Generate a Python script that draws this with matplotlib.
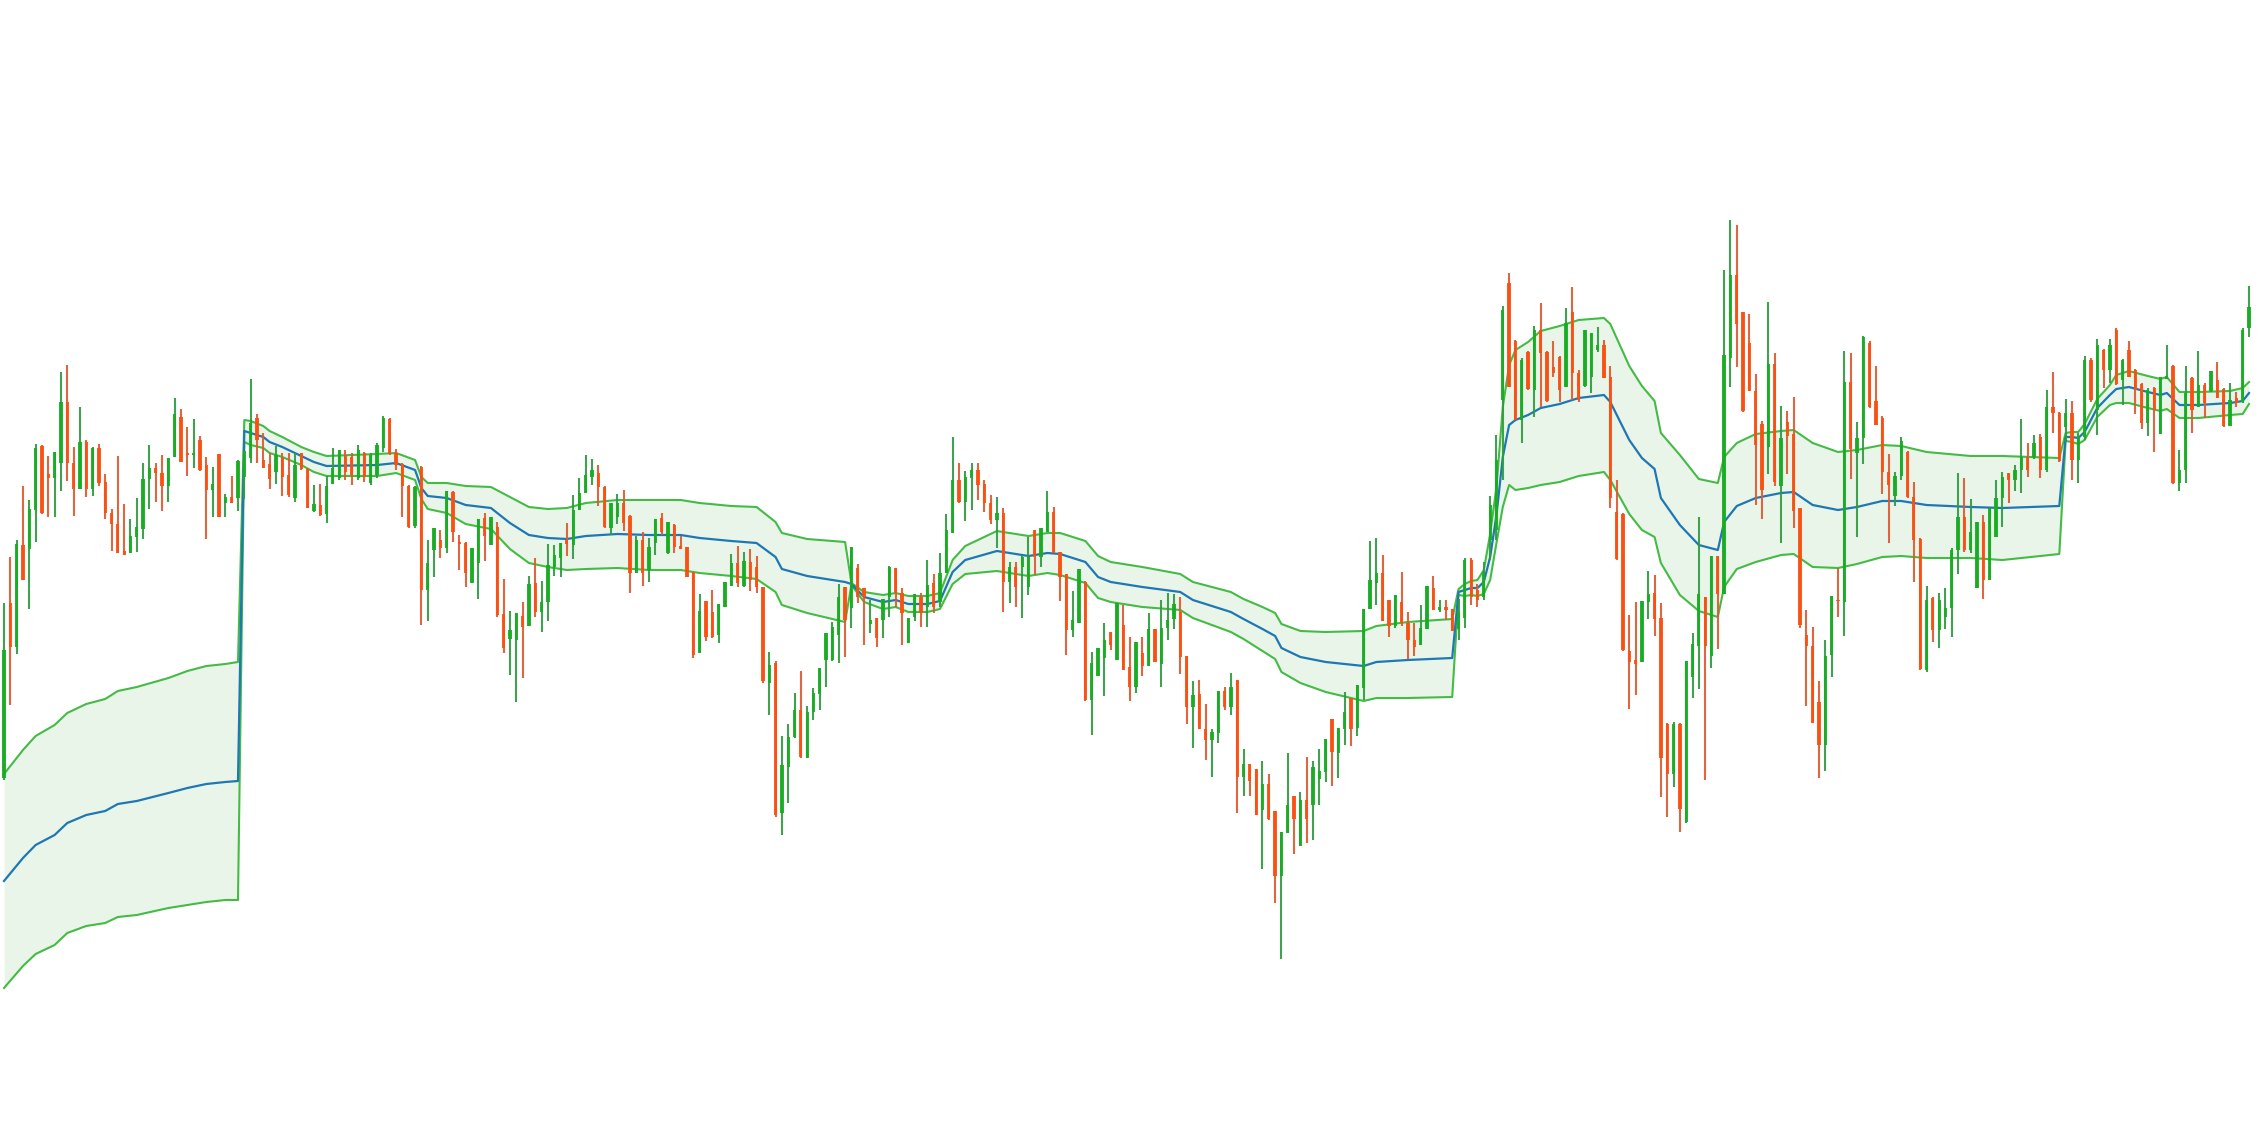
"""
Candlestick chart with a session anchored VWAP and its deviation band.

Price levels below are read downward from the top edge of the chart,
so the y axis is inverted when the chart is drawn.
"""
import numpy as np
import matplotlib
matplotlib.use("Agg")
import matplotlib.pyplot as plt

# --- candles -------------------------------------------------------------
open_ = [
    778, 603, 647, 545, 549, 510, 446, 474, 478, 463,
    402, 463, 489, 442, 489, 448, 482, 513, 524, 551,
    553, 537, 529, 479, 468, 473, 486, 457, 417, 453,
    455, 440, 465, 490, 454, 503, 497, 498, 477, 458,
    418, 460, 464, 472, 458, 475, 498, 453, 469, 511,
    505, 514, 484, 478, 455, 457, 478, 453, 483, 475,
    448, 419, 453, 464, 486, 526, 467, 590, 550, 540,
    548, 492, 542, 543, 583, 563, 518, 545, 527, 614,
    639, 640, 616, 626, 583, 612, 602, 567, 558, 540,
    545, 510, 493, 477, 473, 487, 528, 517, 503, 516,
    573, 540, 570, 543, 518, 553, 525, 546, 547, 572,
    653, 601, 612, 635, 607, 586, 563, 586, 562, 567,
    587, 683, 663, 813, 767, 737, 710, 758, 712, 694,
    660, 660, 635, 587, 608, 568, 588, 624, 618, 620,
    597, 568, 593, 643, 617, 597, 607, 583, 602, 573,
    533, 480, 502, 478, 470, 484, 503, 520, 513, 582,
    567, 567, 587, 530, 557, 532, 512, 552, 574, 630,
    623, 582, 700, 676, 658, 632, 660, 625, 667, 687,
    653, 666, 629, 664, 628, 619, 612, 656, 707, 694,
    729, 740, 733, 691, 707, 680, 777, 764, 769, 810,
    784, 811, 876, 833, 796, 846, 800, 805, 779, 772,
    719, 753, 729, 698, 728, 688, 609, 583, 573, 600,
    626, 602, 623, 640, 645, 629, 588, 610, 607, 609,
    629, 618, 560, 590, 597, 540, 530, 400, 283, 341,
    420, 352, 390, 330, 352, 367, 357, 387, 312, 373,
    386, 377, 350, 345, 377, 512, 514, 651, 660, 662,
    602, 593, 618, 724, 774, 724, 822, 677, 646, 597,
    656, 556, 594, 358, 275, 312, 343, 391, 424, 447,
    364, 486, 422, 434, 508, 635, 646, 702, 745, 655,
    600, 602, 382, 453, 438, 343, 401, 418, 472, 496,
    476, 452, 497, 539, 670, 598, 630, 617, 608, 550,
    517, 550, 588, 522, 580, 537, 498, 473, 480, 470,
    457, 457, 437, 470, 407, 413, 427, 413, 460, 437,
    360, 410, 350, 370, 330, 380, 350, 370, 384, 423,
    388, 434, 379, 366, 483, 470, 378, 407, 385, 391,
    380, 389, 426, 398, 402, 328,
]

close = [
    650, 647, 544, 580, 509, 448, 513, 478, 452, 402,
    463, 489, 442, 489, 448, 483, 513, 524, 553, 555,
    536, 527, 479, 468, 473, 486, 458, 414, 462, 455,
    453, 470, 490, 484, 517, 497, 503, 461, 451, 423,
    440, 468, 479, 455, 477, 495, 465, 469, 508, 504,
    515, 486, 468, 450, 472, 475, 450, 477, 455, 445,
    418, 454, 465, 486, 527, 487, 590, 563, 528, 548,
    491, 532, 544, 573, 548, 519, 536, 517, 615, 648,
    630, 613, 627, 584, 612, 602, 565, 555, 543, 544,
    510, 493, 475, 470, 487, 527, 503, 503, 523, 573,
    540, 573, 547, 519, 532, 522, 547, 549, 577, 655,
    611, 637, 637, 604, 582, 563, 583, 561, 580, 587,
    681, 665, 815, 765, 737, 710, 757, 712, 693, 668,
    633, 627, 597, 620, 547, 597, 597, 620, 638, 599,
    567, 593, 613, 618, 594, 613, 585, 607, 573, 530,
    480, 502, 477, 470, 485, 503, 520, 513, 582, 567,
    587, 557, 557, 557, 528, 512, 553, 577, 630, 620,
    569, 700, 663, 648, 640, 645, 603, 670, 687, 642,
    666, 629, 662, 628, 620, 604, 657, 707, 695, 729,
    740, 732, 691, 707, 687, 777, 764, 781, 815, 784,
    819, 876, 832, 805, 819, 800, 819, 767, 771, 739,
    752, 728, 712, 729, 685, 609, 580, 573, 621, 626,
    595, 623, 640, 647, 628, 586, 610, 607, 610, 631,
    612, 560, 597, 600, 572, 505, 460, 310, 387, 420,
    360, 389, 330, 353, 401, 373, 390, 323, 373, 400,
    330, 333, 345, 378, 498, 559, 650, 662, 664, 601,
    594, 619, 758, 774, 724, 809, 661, 644, 594, 646,
    556, 594, 355, 275, 324, 411, 391, 445, 490, 364,
    482, 438, 436, 511, 625, 646, 723, 745, 656, 596,
    601, 382, 449, 438, 337, 407, 425, 472, 485, 476,
    441, 497, 540, 669, 600, 630, 600, 608, 550, 517,
    550, 532, 522, 580, 508, 498, 477, 480, 470, 457,
    470, 443, 470, 407, 413, 461, 413, 460, 437, 360,
    400, 345, 370, 345, 384, 360, 377, 390, 423, 390,
    410, 377, 376, 483, 470, 393, 410, 385, 403, 371,
    398, 426, 400, 403, 330, 307,
]

high = [
    603, 557, 540, 486, 500, 444, 445, 456, 452, 372,
    365, 447, 407, 440, 447, 444, 474, 509, 456, 504,
    519, 498, 463, 445, 463, 455, 458, 398, 409, 427,
    419, 436, 457, 467, 454, 494, 476, 460, 451, 379,
    414, 433, 453, 446, 453, 453, 453, 453, 468, 485,
    484, 476, 448, 450, 450, 453, 445, 452, 453, 443,
    416, 418, 449, 463, 485, 486, 466, 540, 528, 530,
    491, 491, 535, 542, 548, 519, 513, 517, 522, 579,
    611, 613, 602, 576, 558, 581, 544, 545, 543, 523,
    495, 478, 455, 459, 465, 486, 503, 494, 490, 515,
    536, 532, 538, 519, 513, 522, 524, 536, 547, 572,
    594, 601, 590, 604, 582, 554, 546, 552, 549, 556,
    587, 652, 661, 736, 724, 693, 671, 706, 688, 668,
    633, 622, 584, 587, 547, 564, 588, 600, 618, 599,
    566, 568, 588, 618, 594, 593, 560, 574, 553, 514,
    437, 463, 471, 463, 463, 480, 495, 497, 508, 562,
    562, 556, 537, 530, 528, 491, 507, 552, 574, 591,
    569, 581, 652, 648, 623, 632, 603, 605, 637, 642,
    637, 613, 629, 600, 593, 594, 597, 656, 681, 680,
    704, 729, 691, 687, 673, 680, 749, 764, 769, 761,
    774, 811, 832, 753, 796, 792, 757, 761, 749, 739,
    719, 728, 692, 698, 685, 609, 541, 538, 555, 600,
    595, 572, 612, 623, 605, 586, 576, 600, 600, 609,
    599, 558, 558, 584, 562, 496, 435, 306, 273, 340,
    358, 351, 326, 303, 351, 341, 356, 308, 287, 370,
    330, 333, 327, 340, 366, 480, 513, 615, 602, 601,
    571, 575, 603, 723, 722, 723, 661, 633, 517, 597,
    556, 556, 270, 220, 225, 312, 314, 374, 421, 302,
    353, 406, 411, 397, 508, 610, 627, 681, 640, 596,
    568, 351, 353, 422, 336, 341, 366, 416, 454, 472,
    437, 451, 482, 538, 586, 597, 593, 588, 548, 473,
    478, 499, 522, 515, 508, 480, 472, 473, 465, 419,
    443, 435, 434, 390, 372, 412, 399, 401, 433, 356,
    358, 339, 349, 339, 328, 359, 341, 369, 383, 388,
    387, 377, 345, 365, 450, 366, 377, 351, 383, 371,
    362, 388, 383, 392, 328, 286,
]

low = [
    780, 705, 654, 580, 609, 542, 514, 517, 517, 491,
    481, 516, 489, 497, 496, 486, 519, 551, 553, 555,
    553, 552, 539, 509, 502, 511, 502, 457, 462, 476,
    468, 471, 539, 517, 517, 517, 503, 511, 499, 463,
    463, 468, 489, 484, 496, 497, 502, 470, 508, 512,
    516, 523, 484, 480, 480, 485, 480, 482, 485, 478,
    452, 455, 470, 517, 528, 528, 625, 621, 577, 558,
    553, 542, 570, 587, 583, 599, 561, 545, 617, 653,
    675, 702, 678, 626, 617, 632, 621, 576, 577, 556,
    559, 510, 493, 485, 506, 528, 535, 524, 531, 593,
    573, 586, 582, 555, 535, 554, 553, 549, 577, 658,
    653, 641, 638, 643, 607, 586, 587, 587, 591, 593,
    683, 715, 817, 835, 803, 738, 758, 758, 720, 710,
    687, 661, 663, 657, 628, 603, 645, 633, 647, 638,
    617, 607, 645, 643, 621, 627, 627, 613, 607, 573,
    533, 503, 521, 510, 500, 512, 524, 548, 612, 603,
    607, 618, 595, 575, 567, 532, 553, 601, 655, 637,
    623, 701, 735, 676, 696, 650, 660, 670, 701, 693,
    676, 666, 662, 687, 640, 629, 674, 724, 748, 729,
    760, 777, 743, 710, 715, 813, 796, 796, 815, 869,
    820, 903, 959, 833, 854, 846, 843, 840, 805, 782,
    786, 778, 745, 746, 736, 700, 609, 605, 621, 637,
    628, 626, 659, 656, 645, 629, 610, 612, 620, 631,
    640, 628, 605, 607, 600, 560, 540, 480, 387, 420,
    443, 390, 417, 407, 402, 377, 402, 387, 400, 402,
    387, 393, 352, 378, 508, 560, 651, 709, 695, 662,
    619, 636, 797, 817, 787, 832, 823, 698, 689, 780,
    668, 649, 594, 387, 367, 412, 391, 505, 519, 474,
    486, 543, 474, 528, 628, 706, 723, 778, 771, 677,
    617, 636, 479, 537, 464, 408, 425, 494, 543, 506,
    480, 498, 582, 670, 672, 642, 648, 629, 637, 574,
    552, 553, 588, 599, 580, 537, 527, 503, 491, 493,
    477, 459, 478, 472, 433, 462, 442, 480, 483, 440,
    402, 435, 388, 383, 385, 405, 377, 414, 429, 436,
    452, 434, 379, 484, 491, 483, 433, 407, 418, 392,
    398, 427, 426, 407, 403, 337,
]

# --- anchored VWAP (one anchor per session) and band half width -----------
band_idx = [
    0, 3, 5, 8, 10, 13, 16, 18, 21, 26, 29, 32, 35, 37,
    38, 39, 41, 42, 44, 47, 49, 51, 59, 62, 65, 66, 67, 70, 73, 77,
    80, 83, 86, 89, 92, 97, 102, 107, 110, 115, 119, 122, 123, 127, 133,
    134, 136, 139, 141, 143, 146, 148, 150, 152, 157, 159, 162, 165, 167,
    169, 171, 173, 175, 180, 186, 188, 194, 196, 199, 201, 202, 205, 209,
    215, 217, 222, 229,
    230, 231, 232, 233, 234, 235, 236, 237, 238, 239, 241, 243, 246, 249,
    253, 254, 257, 259, 261, 262, 265, 268, 271, 272, 274, 277, 281, 283,
    286, 290, 293, 297, 300, 304, 311, 316, 325,
    326, 327, 328, 329, 331, 333, 334, 336, 339, 341, 342, 344, 347, 352,
    354, 355,
]

vwap = [
    881, 858, 845, 835, 823, 815, 811, 804, 801, 793, 788, 784, 782, 781,
    431, 433, 437, 442, 447, 456, 462, 466, 465, 463, 470, 488, 496, 498,
    505, 508, 523, 535, 538, 539, 536, 534, 535, 535, 538, 541, 543, 557,
    569, 576, 582,
    584, 597, 602, 600, 604, 604, 601, 572, 560, 551, 553, 556, 553, 554,
    558, 562, 577, 582, 587, 592, 600, 612, 619, 629, 636, 648, 657, 662,
    666, 662, 660, 658,
    592, 590, 588, 588, 582, 557, 515, 457, 425, 420, 415, 408, 404, 398,
    395, 402, 440, 458, 469, 498, 525, 545, 550, 522, 506, 498, 493, 492,
    505, 510, 507, 501, 501, 505, 507, 508, 506,
    437, 437, 438, 432, 408, 395, 389, 387, 392, 395, 393, 405, 405, 403,
    401, 393,
]

band_dev = [
    107, 108, 109, 110, 110, 111, 112, 113, 114, 115, 117, 118, 118, 119,
    11, 12, 11, 11, 10, 9, 10, 10, 11, 10, 10, 11, 13, 15,
    19, 21, 26, 28, 29, 31, 33, 34, 35, 35, 35, 35, 36, 35,
    36, 37, 40,
    1, 5, 7, 7, 8, 8, 8, 12, 14, 20, 20, 20, 20, 21,
    21, 21, 21, 20, 20, 18, 18, 20, 20, 22, 23, 24, 26, 30,
    35, 36, 38, 39,
    3, 6, 7, 8, 12, 23, 28, 50, 60, 70, 73, 77, 78, 78,
    77, 78, 74, 72, 68, 65, 70, 66, 67, 65, 63, 64, 62, 62,
    62, 58, 57, 56, 55, 53, 51, 52, 48,
    4, 5, 6, 8, 9, 10, 14, 16, 16, 16, 16, 13, 13, 12,
    13, 11,
]

UP_BODY, UP_WICK = "#17ad22", "#2f9a40"
DOWN_BODY, DOWN_WICK = "#fb5010", "#dc5a30"
BAND_GREEN = "#44bb44"
VWAP_BLUE = "#1f77b4"


def main():
    """Draw the candles, the VWAP and its band, and save out.png."""
    o = np.array(open_)
    c = np.array(close)
    h = np.array(high)
    lo = np.array(low)
    x = np.arange(len(c))

    # level scale runs downward, so a rising candle closes at a smaller number
    up = c < o
    body_cols = np.where(up, UP_BODY, DOWN_BODY)
    wick_cols = np.where(up, UP_WICK, DOWN_WICK)

    bx = np.array(band_idx)
    vw = np.array(vwap)
    dv = np.array(band_dev)

    fig = plt.figure(figsize=(22.68, 11.48), dpi=100)
    ax = fig.add_axes([0, 0, 1, 1])

    # --- band ---
    ax.fill_between(bx, vw - dv, vw + dv, color="#2ca02c", alpha=0.1,
                    linewidth=0, zorder=1)
    ax.plot(bx, vw - dv, color=BAND_GREEN, linewidth=1.5, zorder=2)
    ax.plot(bx, vw + dv, color=BAND_GREEN, linewidth=1.5, zorder=2)
    ax.plot(bx, vw, color=VWAP_BLUE, linewidth=1.6, zorder=2)

    # --- candles ---
    ax.vlines(x, h, lo, colors=wick_cols, linewidth=1.5, zorder=3, alpha=0.92)
    ax.bar(x, c - o, bottom=o, width=0.52, color=body_cols, linewidth=0,
           zorder=4, alpha=0.92)

    ax.set_xlim(-0.633, 358.0)
    ax.set_ylim(1148, 0)
    ax.set_axis_off()

    fig.savefig("out.png", dpi=100, facecolor="white")
    plt.close(fig)


if __name__ == "__main__":
    main()
